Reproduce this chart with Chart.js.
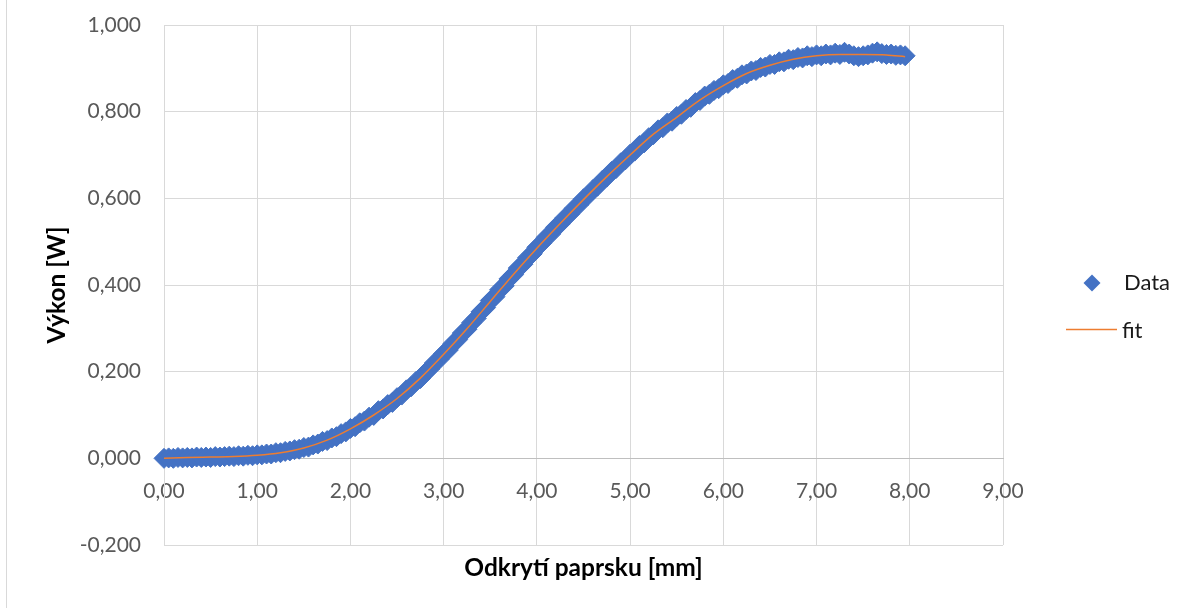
<!DOCTYPE html>
<html><head><meta charset="utf-8">
<script src="https://cdn.jsdelivr.net/npm/chart.js@4.4.1/dist/chart.umd.min.js"></script>
<style>html,body{margin:0;padding:0;background:#fff;}#wrap{width:1190px;height:608px;position:relative;}</style>
</head><body><div id="wrap"><canvas id="c" width="1190" height="608"></canvas></div>
<script>
const dataX = [0.00,0.05,0.10,0.15,0.20,0.25,0.30,0.35,0.40,0.45,0.50,0.55,0.60,0.65,0.70,0.75,0.80,0.85,0.90,0.95,
1.00,1.05,1.10,1.15,1.20,1.25,1.30,1.35,1.40,1.45,1.50,1.55,1.60,1.65,1.70,1.75,1.80,1.85,1.90,1.95,
2.00,2.05,2.10,2.15,2.20,2.25,2.30,2.35,2.40,2.45,2.50,2.55,2.60,2.65,2.70,2.75,2.80,2.85,2.90,2.95,
3.00,3.05,3.10,3.15,3.20,3.25,3.30,3.35,3.40,3.45,3.50,3.55,3.60,3.65,3.70,3.75,3.80,3.85,3.90,3.95,
4.00,4.05,4.10,4.15,4.20,4.25,4.30,4.35,4.40,4.45,4.50,4.55,4.60,4.65,4.70,4.75,4.80,4.85,4.90,4.95,
5.00,5.05,5.10,5.15,5.20,5.25,5.30,5.35,5.40,5.45,5.50,5.55,5.60,5.65,5.70,5.75,5.80,5.85,5.90,5.95,
6.00,6.05,6.10,6.15,6.20,6.25,6.30,6.35,6.40,6.45,6.50,6.55,6.60,6.65,6.70,6.75,6.80,6.85,6.90,6.95,
7.00,7.05,7.10,7.15,7.20,7.25,7.30,7.35,7.40,7.45,7.50,7.55,7.60,7.65,7.70,7.75,7.80,7.85,7.90,7.95];
const dataY = [0.000,0.001,0.000,0.002,0.001,0.002,0.001,0.003,0.002,0.003,0.002,0.004,0.003,0.004,0.005,0.004,0.006,0.005,0.007,0.006,
0.008,0.008,0.010,0.010,0.013,0.013,0.016,0.017,0.020,0.021,0.025,0.026,0.031,0.033,0.039,0.041,0.047,0.050,0.057,0.061,
0.069,0.073,0.082,0.086,0.095,0.099,0.110,0.114,0.124,0.129,0.140,0.146,0.158,0.165,0.177,0.184,0.197,0.206,0.220,0.228,
0.242,0.250,0.265,0.274,0.289,0.298,0.313,0.323,0.338,0.348,0.364,0.373,0.389,0.398,0.414,0.424,0.439,0.448,0.463,0.472,
0.487,0.496,0.510,0.518,0.533,0.541,0.555,0.563,0.577,0.585,0.599,0.607,0.620,0.628,0.641,0.649,0.662,0.669,0.682,0.689,
0.702,0.709,0.722,0.728,0.740,0.747,0.758,0.763,0.774,0.778,0.789,0.794,0.805,0.810,0.821,0.826,0.836,0.840,0.849,0.853,
0.862,0.865,0.874,0.877,0.885,0.887,0.894,0.895,0.902,0.903,0.909,0.909,0.915,0.915,0.921,0.920,0.925,0.924,0.929,0.927,
0.931,0.929,0.933,0.931,0.935,0.932,0.937,0.933,0.929,0.927,0.929,0.931,0.935,0.938,0.934,0.932,0.933,0.930,0.931,0.929];
const fitX = [0.00,0.25,0.50,0.75,1.00,1.25,1.50,1.75,2.00,2.25,2.50,2.75,3.00,3.25,3.50,3.75,4.00,4.25,4.50,4.75,5.00,5.25,5.50,5.75,6.00,6.25,6.50,6.75,7.00,7.25,7.50,7.75,7.95];
const fitY = [0.000,0.002,0.003,0.004,0.007,0.013,0.024,0.042,0.068,0.100,0.138,0.185,0.240,0.299,0.362,0.425,0.485,0.542,0.597,0.650,0.700,0.748,0.787,0.827,0.860,0.888,0.907,0.921,0.929,0.932,0.932,0.931,0.927];
const xTickLabels = ['0,00','1,00','2,00','3,00','4,00','5,00','6,00','7,00','8,00','9,00'];
const yTickLabels = ['-0,200','0,000','0,200','0,400','0,600','0,800','1,000'];
const seriesNames = ['Data','fit'];
const xTitle = 'Odkrytí paprsku [mm]';
const yTitle = 'Výkon [W]';

const FONT = 'Lato, "Open Sans", sans-serif';
const BLUE = '#4472C4', ORANGE = '#ED7D31';

const decor = {
  id: 'decor',
  afterDraw(chart) {
    const ctx = chart.ctx;
    const ca = chart.chartArea;
    ctx.save();
    ctx.strokeStyle = '#d9d9d9'; ctx.lineWidth = 1;
    ctx.beginPath(); ctx.moveTo(6.5, 0); ctx.lineTo(6.5, 608); ctx.stroke();
    // y axis title
    ctx.save();
    ctx.translate(57, (ca.top + ca.bottom) / 2);
    ctx.rotate(-Math.PI / 2);
    ctx.fillStyle = '#000';
    ctx.font = 'bold 24.5px ' + FONT;
    ctx.textAlign = 'center'; ctx.textBaseline = 'middle';
    ctx.fillText(yTitle, 0, 0);
    ctx.restore();
    // legend
    ctx.fillStyle = BLUE;
    const cx = 1092, cy = 283, r = 8.5;
    ctx.beginPath(); ctx.moveTo(cx - r, cy); ctx.lineTo(cx, cy - r); ctx.lineTo(cx + r, cy); ctx.lineTo(cx, cy + r); ctx.closePath(); ctx.fill();
    ctx.strokeStyle = ORANGE; ctx.lineWidth = 1.5;
    ctx.beginPath(); ctx.moveTo(1066, 329.5); ctx.lineTo(1117, 329.5); ctx.stroke();
    ctx.fillStyle = '#1a1a1a';
    ctx.font = '22px ' + FONT;
    ctx.textBaseline = 'middle'; ctx.textAlign = 'left';
    ctx.fillText(seriesNames[0], 1124, 283);
    ctx.fillText(seriesNames[1], 1122, 331);
    ctx.restore();
  }
};

new Chart(document.getElementById('c'), {
  type: 'scatter',
  data: {
    datasets: [
      {
        label: seriesNames[1], type: 'line', order: 0,
        data: fitX.map((x, i) => ({x, y: fitY[i]})),
        borderColor: ORANGE, borderWidth: 1.5, pointRadius: 0, fill: false,
        cubicInterpolationMode: 'monotone', showLine: true, clip: false
      },
      {
        label: seriesNames[0], order: 1,
        data: dataX.map((x, i) => ({x, y: dataY[i]})),
        pointStyle: 'rectRot', pointRadius: 10, borderWidth: 1,
        backgroundColor: BLUE, borderColor: BLUE, showLine: false, clip: false
      }
    ]
  },
  options: {
    responsive: false, animation: false, devicePixelRatio: 1,
    layout: { padding: { left: 0, right: 187, top: 25, bottom: 0 } },
    plugins: { legend: { display: false }, tooltip: { enabled: false } },
    scales: {
      x: {
        type: 'linear', position: 'bottom', min: 0, max: 9,
        ticks: { display: false, stepSize: 1 },
        grid: { color: '#d9d9d9', lineWidth: 1, drawTicks: false },
        border: { display: false },
        title: { display: true, text: xTitle, color: '#000', font: { family: FONT, size: 24.5, weight: 'bold' }, padding: { top: 0, bottom: 25 } },
        afterFit(s) { s.height = 63; }
      },
      x2: {
        type: 'linear', position: { y: 0 }, min: 0, max: 9,
        ticks: { stepSize: 1, color: '#595959', font: { family: FONT, size: 21 }, padding: 20,
                 callback: (v, i) => xTickLabels[i] },
        grid: { display: false, drawTicks: false },
        border: { display: true, color: '#bfbfbf', width: 1 }
      },
      y: {
        type: 'linear', position: 'left', min: -0.2, max: 1.0,
        ticks: { stepSize: 0.2, color: '#595959', font: { family: FONT, size: 21 }, padding: 0,
                 callback: (v, i) => yTickLabels[i] },
        grid: { color: '#d9d9d9', lineWidth: 1, drawTicks: true, tickLength: 23, tickColor: 'rgba(0,0,0,0)' },
        border: { display: true, color: '#d9d9d9' },
        title: { display: false },
        afterFit(s) { s.width = 164; }
      }
    }
  },
  plugins: [decor]
});
</script>
</body></html>
